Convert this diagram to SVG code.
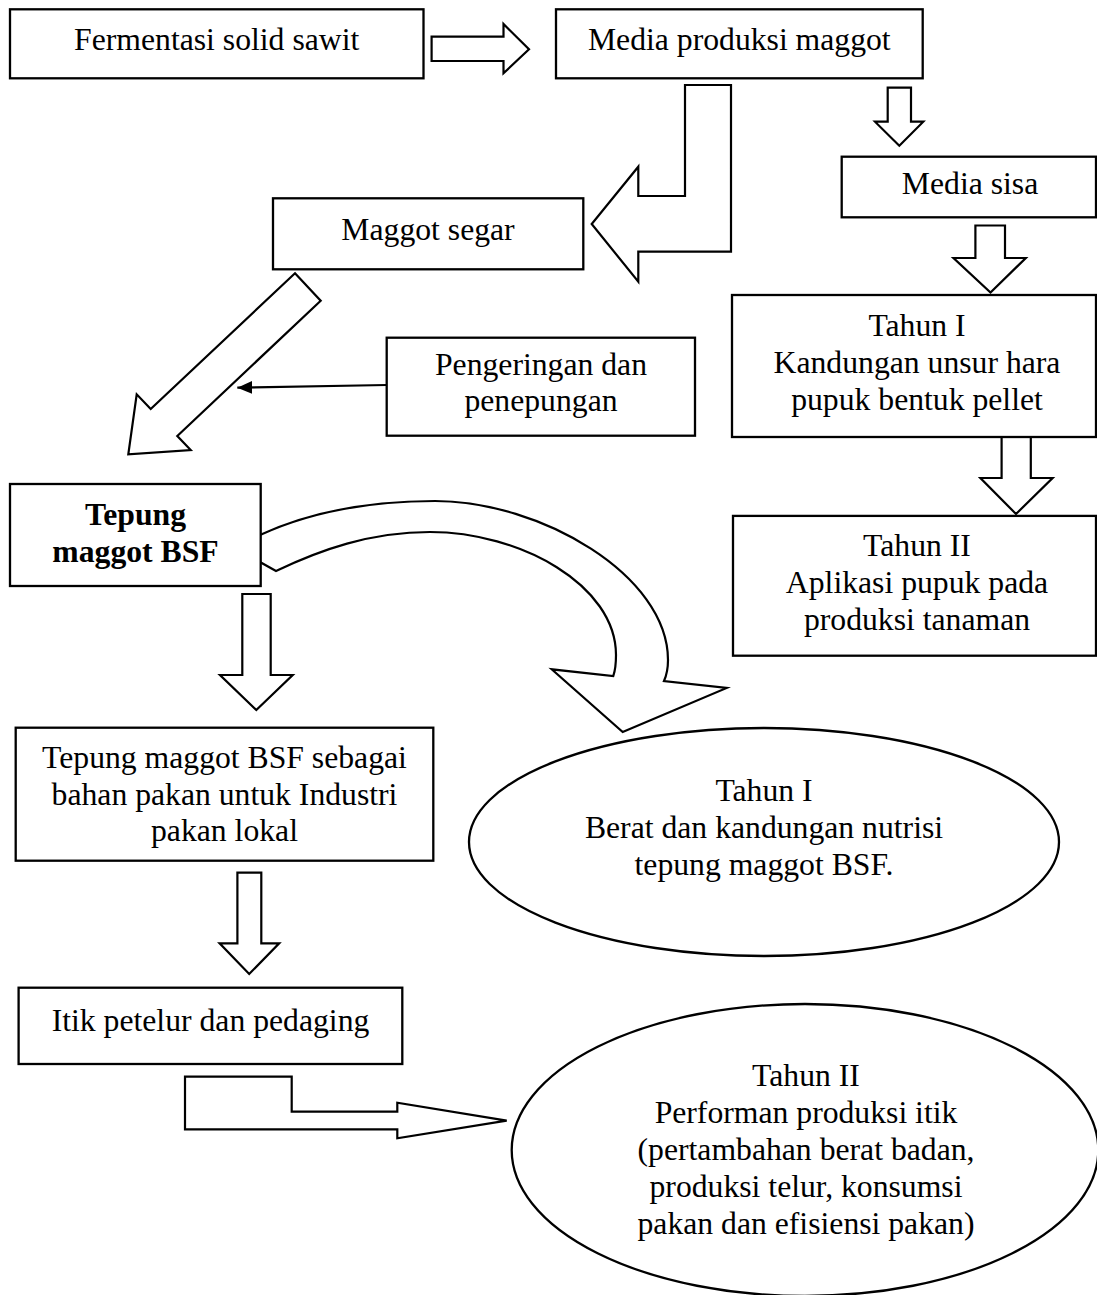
<svg xmlns="http://www.w3.org/2000/svg" width="1097" height="1295" viewBox="0 0 1097 1295">
<style>
.box{fill:#fff;stroke:#000;stroke-width:2.3}
.arr{fill:#fff;stroke:#000;stroke-width:2.2;stroke-linejoin:miter}
.ln{fill:none;stroke:#000;stroke-width:2.2}
.t{font-family:"Liberation Serif","Times New Roman",serif;font-size:31.7px;text-anchor:middle;fill:#000}
.b{font-weight:bold}
</style>
<defs>
<marker id="ah" markerUnits="userSpaceOnUse" markerWidth="16" markerHeight="14" refX="15" refY="6.5" orient="auto">
<path d="M0,0 L15,6.5 L0,13 Z" fill="#000"/>
</marker>
</defs>
<rect width="1097" height="1295" fill="#fff"/>
<g id="connectors">
<polygon class="arr" points="431.6,36.7 503.5,36.7 503.5,24 529,49.3 503.5,73.3 503.5,61 431.6,61"/>
<polygon class="arr" points="685,85 731,85 731,251.7 638.3,251.7 638.3,281.7 591.7,224 638.3,166.7 638.3,196 685,196"/>
<polygon class="arr" points="887.7,87.7 911,87.7 911,121.7 923.3,121.7 899.3,145.7 875,121.7 887.7,121.7"/>
<polygon class="arr" points="975.4,225.5 1005,225.5 1005,258 1025.8,258 990.5,292.6 953.5,258 975.4,258"/>
<polygon class="arr" points="1001.6,437 1030.8,437 1030.8,478 1052.6,478 1016,514 980.4,478 1001.6,478"/>
<polygon class="arr" points="295,273.3 320.7,300.7 177.3,436 190.7,450 128.3,454.3 136.7,394.3 150.7,409"/>
<line class="ln" x1="386.7" y1="385" x2="237.3" y2="387.7" marker-end="url(#ah)"/>
<path class="arr" d="M260,535 C310,512 370,501 435,501 C540,501 668,575 668,660 Q668,672 664,681 L726.7,688 L622.7,732 L551.7,669.3 L613.3,676 Q616,668 616,655 C616,585 520,532 430,532 C370,532 320,550 276,571 L260,562 Z"/>
<polygon class="arr" points="242.3,594 270.7,594 270.7,675 292.7,675 256.3,710 220,675 242.3,675"/>
<polygon class="arr" points="237.4,872.7 261.3,872.7 261.3,943.3 279.2,943.3 249.2,974 219.6,943.3 237.4,943.3"/>
<polygon class="arr" points="185,1076.7 291.7,1076.7 291.7,1111.7 397.3,1111.7 397.3,1102.7 506.7,1120.7 397.3,1138.3 397.3,1129.3 185,1129.3"/>
</g>
<g id="n-fermentasi">
<rect class="box" x="10" y="9.3" width="413.5" height="69"/>
<text class="t" x="216.7" y="50">Fermentasi solid sawit</text>
</g>
<g id="n-media-produksi">
<rect class="box" x="556" y="9.3" width="366.7" height="69"/>
<text class="t" x="739.3" y="50">Media produksi maggot</text>
</g>
<g id="n-media-sisa">
<rect class="box" x="841.7" y="156.7" width="254.3" height="60.6"/>
<text class="t" x="970" y="194">Media sisa</text>
</g>
<g id="n-maggot-segar">
<rect class="box" x="273" y="198.3" width="310.3" height="71"/>
<text class="t" x="428" y="240">Maggot segar</text>
</g>
<g id="n-pengeringan">
<rect class="box" x="386.7" y="337.7" width="308.3" height="98"/>
<text class="t" x="541" y="374.5">Pengeringan dan</text>
<text class="t" x="541" y="411">penepungan</text>
</g>
<g id="n-tahun1-pupuk">
<rect class="box" x="732" y="295" width="364" height="142"/>
<text class="t" x="917" y="336">Tahun I</text>
<text class="t" x="917" y="373">Kandungan unsur hara</text>
<text class="t" x="917" y="409.5">pupuk bentuk pellet</text>
</g>
<g id="n-tahun2-pupuk">
<rect class="box" x="733" y="515.9" width="363" height="139.8"/>
<text class="t" x="917" y="556">Tahun II</text>
<text class="t" x="917" y="593">Aplikasi pupuk pada</text>
<text class="t" x="917" y="629.5">produksi tanaman</text>
</g>
<g id="n-tepung">
<rect class="box" x="10" y="484" width="250.7" height="102"/>
<text class="t b" x="135.5" y="525">Tepung</text>
<text class="t b" x="135.5" y="561.5">maggot BSF</text>
</g>
<g id="n-tepung-pakan">
<rect class="box" x="15.7" y="727.7" width="417.6" height="133"/>
<text class="t" x="224.5" y="768">Tepung maggot BSF sebagai</text>
<text class="t" x="224.5" y="805">bahan pakan untuk Industri</text>
<text class="t" x="224.5" y="841">pakan lokal</text>
</g>
<g id="n-tahun1-nutrisi">
<ellipse class="box" cx="764" cy="842" rx="295" ry="114"/>
<text class="t" x="764" y="801">Tahun I</text>
<text class="t" x="764" y="838">Berat dan kandungan nutrisi</text>
<text class="t" x="764" y="875">tepung maggot BSF.</text>
</g>
<g id="n-itik">
<rect class="box" x="18.6" y="987.7" width="383.7" height="76.3"/>
<text class="t" x="210.5" y="1031">Itik petelur dan pedaging</text>
</g>
<g id="n-tahun2-itik">
<ellipse class="box" cx="805" cy="1150" rx="293.3" ry="146"/>
<text class="t" x="806" y="1086">Tahun II</text>
<text class="t" x="806" y="1123">Performan produksi itik</text>
<text class="t" x="806" y="1160">(pertambahan berat badan,</text>
<text class="t" x="806" y="1197">produksi telur, konsumsi</text>
<text class="t" x="806" y="1234">pakan dan efisiensi pakan)</text>
</g>
</svg>
